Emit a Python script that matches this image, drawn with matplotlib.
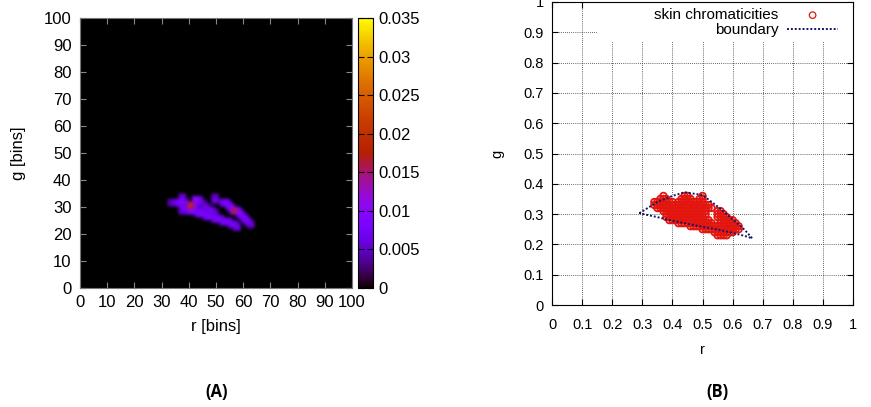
import numpy as np
import matplotlib.pyplot as plt
from matplotlib.patches import Rectangle

# ---- panel A: 2D skin histogram (non-zero cells only, rest is 0) ----
cell_r = [33, 34, 35, 36, 37, 38,
          37, 37, 37, 37, 37,
          40, 40, 39, 41,
          42, 42, 43,
          39, 40, 41, 42, 43, 44, 45, 46, 47, 48, 49, 50, 51, 52, 53, 54, 55, 56, 57,
          49, 49,
          52, 53, 54, 55, 56, 57, 58, 59, 60, 61, 62,
          45, 46, 47, 48, 49,
          44, 45]
cell_g = [31, 31, 31, 31, 31, 31,
          33, 32, 30, 29, 28,
          30, 29, 29, 30,
          32, 31, 32,
          28, 28, 28, 28, 27, 27, 27, 26, 26, 26, 25, 25, 25, 24, 24, 24, 23, 23, 22,
          32, 33,
          31, 31, 30, 29, 28, 28, 27, 26, 25, 24, 23,
          29, 29, 28, 28, 27,
          31, 30]
cell_v = [0.005, 0.006, 0.008, 0.009, 0.009, 0.007,
          0.006, 0.008, 0.008, 0.007, 0.006,
          0.020, 0.014, 0.010, 0.012,
          0.012, 0.009, 0.008,
          0.008, 0.009, 0.009, 0.009, 0.009, 0.009, 0.008, 0.009, 0.009, 0.008,
          0.008, 0.009, 0.008, 0.008, 0.009, 0.008, 0.008, 0.008, 0.007,
          0.007, 0.005,
          0.008, 0.009, 0.009, 0.010, 0.018, 0.012, 0.010, 0.009, 0.009, 0.008, 0.006,
          0.007, 0.007, 0.008, 0.007, 0.006,
          0.006, 0.006]
cbar_ticks = [0, 0.005, 0.01, 0.015, 0.02, 0.025, 0.03, 0.035]
cbar_labels = ['0', '0.005', '0.01', '0.015', '0.02', '0.025', '0.03', '0.035']

# ---- panel B: skin chromaticities, one row per g value, (r_start, r_end) spans ----
row_g = [0.36, 0.35, 0.34, 0.33, 0.32, 0.31, 0.30, 0.29, 0.28, 0.27, 0.26, 0.25, 0.24, 0.23]
row_spans = [
    [(0.37, 0.37), (0.44, 0.45), (0.50, 0.50)],
    [(0.36, 0.38), (0.43, 0.46), (0.49, 0.50)],
    [(0.34, 0.40), (0.42, 0.50)],
    [(0.34, 0.52)],
    [(0.35, 0.53)],
    [(0.37, 0.51), (0.55, 0.56)],
    [(0.38, 0.51), (0.55, 0.57)],
    [(0.38, 0.50), (0.55, 0.58)],
    [(0.39, 0.52), (0.56, 0.60)],
    [(0.42, 0.53), (0.56, 0.61)],
    [(0.46, 0.62)],
    [(0.50, 0.62)],
    [(0.54, 0.60)],
    [(0.55, 0.58)],
]
bound_r = [0.29, 0.35, 0.40, 0.44, 0.50, 0.55, 0.60, 0.64, 0.665,
           0.64, 0.60, 0.55, 0.50, 0.45, 0.40, 0.35, 0.29]
bound_g = [0.303, 0.340, 0.360, 0.372, 0.363, 0.325, 0.283, 0.248, 0.220,
           0.228, 0.238, 0.249, 0.258, 0.268, 0.278, 0.290, 0.303]

fig = plt.figure(figsize=(8.71, 4.07), dpi=100)
plt.rcParams['font.family'] = ['Liberation Sans', 'DejaVu Sans']

# ---------------- (A) ----------------
hist = np.zeros((100, 100))
for r, g, v in zip(cell_r, cell_g, cell_v):
    hist[g, r] = v

# soften the strokes a bit for display (like the interpolated gnuplot map)
disp = hist.copy()
for dy in (-1, 0, 1):
    for dx in (-1, 0, 1):
        if dy == 0 and dx == 0:
            continue
        w = 0.8 if (dy == 0 or dx == 0) else 0.6
        disp = np.maximum(disp, w * np.roll(np.roll(hist, dy, axis=0), dx, axis=1))

axA = fig.add_axes([0.0918, 0.2924, 0.3123, 0.6634])
im = axA.imshow(disp, origin='lower', extent=[0, 100, 0, 100], cmap='gnuplot',
                vmin=0, vmax=0.035, interpolation='bicubic', aspect='auto')
axA.set_xlim(0, 100)
axA.set_ylim(0, 100)
axA.set_xticks(np.arange(0, 101, 10))
axA.set_yticks(np.arange(0, 101, 10))
axA.tick_params(direction='in', top=True, right=True, labelsize=12, length=4,
                color='#888888')
axA.tick_params(axis='x', pad=5)
axA.tick_params(axis='y', pad=6)
axA.set_xlabel('r [bins]', fontsize=12)
axA.set_ylabel('g [bins]', fontsize=12)
axA.xaxis.set_label_coords(0.5, -0.115)
axA.yaxis.set_label_coords(-0.2, 0.5)
for s in axA.spines.values():
    s.set_color('#777777')

cax = fig.add_axes([0.411, 0.2924, 0.0172, 0.6634])
cb = fig.colorbar(im, cax=cax, ticks=cbar_ticks)
cb.ax.set_yticklabels(cbar_labels)
cb.ax.tick_params(direction='in', labelsize=12, length=4, left=True, right=True, pad=4)
cb.outline.set_linewidth(0.8)

# ---------------- (B) ----------------
pts_r, pts_g = [], []
for g, spans in zip(row_g, row_spans):
    for a, b in spans:
        for r in np.arange(a, b + 0.001, 0.01):
            pts_r.append(r)
            pts_g.append(g)

axB = fig.add_axes([0.6338, 0.2506, 0.3456, 0.7445])
axB.set_xlim(0, 1)
axB.set_ylim(0, 1)
axB.set_xticks(np.arange(0, 1.01, 0.1))
axB.set_yticks(np.arange(0, 1.01, 0.1))
axB.set_xticklabels(['0', '0.1', '0.2', '0.3', '0.4', '0.5', '0.6', '0.7', '0.8', '0.9', '1'])
axB.set_yticklabels(['0', '0.1', '0.2', '0.3', '0.4', '0.5', '0.6', '0.7', '0.8', '0.9', '1'])
axB.tick_params(direction='in', top=True, right=True, labelsize=10.5, length=4, pad=6)
axB.tick_params(axis='x', pad=9)
axB.set_axisbelow(True)
axB.grid(True, linestyle=(0, (1, 1.5)), color='#333333', linewidth=0.6)
axB.add_patch(Rectangle((0.149, 0.868), 0.851, 0.132, transform=axB.transAxes,
                        facecolor='white', edgecolor='none', zorder=1))
axB.scatter(pts_r, pts_g, s=22, facecolors='none', edgecolors='#e3150f',
            linewidths=1.3, zorder=3, label='skin chromaticities')
axB.plot(bound_r, bound_g, linestyle=(0, (1, 1)), color='#141466', linewidth=1.4,
         zorder=4, label='boundary')
axB.set_xlabel('r', fontsize=10.5)
axB.set_ylabel('g', fontsize=10.5)
axB.xaxis.set_label_coords(0.5, -0.125)
axB.yaxis.set_label_coords(-0.16, 0.5)
leg = axB.legend(loc='upper right', bbox_to_anchor=(0.995, 1.025), markerfirst=False,
                 frameon=False, fontsize=11, handlelength=3.3, labelspacing=0.05,
                 handletextpad=0.6)
leg.legend_handles[0].set_linewidths(0.9)

fig.text(217 / 871, 1 - 392 / 407, '(A)', ha='center', va='center', fontsize=12,
         fontweight='bold', family=['Open Sans', 'DejaVu Sans'])
fig.text(717 / 871, 1 - 392 / 407, '(B)', ha='center', va='center', fontsize=12,
         fontweight='bold', family=['Open Sans', 'DejaVu Sans'])

fig.savefig('out.png', dpi=100)
